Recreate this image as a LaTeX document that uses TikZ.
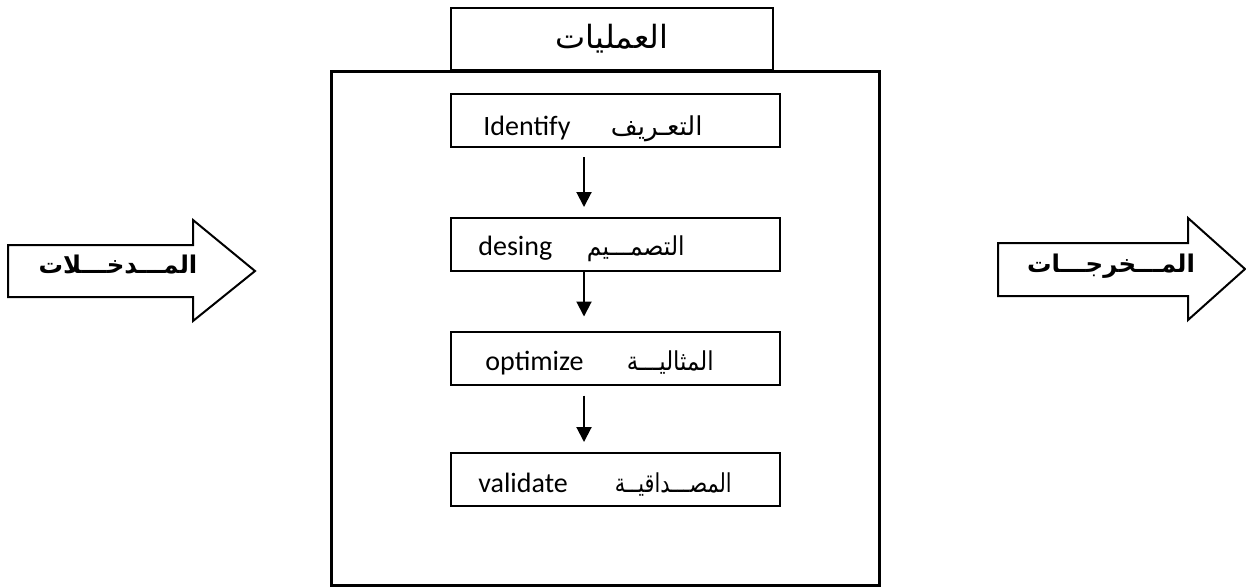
\documentclass[tikz,border=0pt]{standalone}
\usepackage{fontspec}
\setmainfont{Carlito}
\newfontfamily\arabicfont[Script=Arabic]{DejaVu Sans}
\TeXXeTstate=1
\usetikzlibrary{arrows.meta}

\tikzset{
    stagebox/.style={draw, line width=1pt, minimum width=164.5pt, minimum height=26.5pt, inner sep=0pt},
    flow/.style={-{Triangle[width=7.5pt, length=7.5pt]}, line width=1pt},
    blockarrow/.style={draw, line width=1pt, line join=miter},
    entxt/.style={font=\fontsize{14}{16}\selectfont, inner sep=0pt},
    artxt/.style={font=\fontsize{13}{15}\selectfont\arabicfont, inner sep=0pt},
    labtxt/.style={font=\fontsize{12.2}{14}\selectfont\arabicfont\bfseries, inner sep=0pt, anchor=base},
}

\begin{document}
\begin{tikzpicture}[x=0.5pt, y=-0.5pt]
    \useasboundingbox (0, 0) rectangle (1246, 586);

    %% main box and title
    \node[draw, line width=1.5pt, minimum width=274pt, minimum height=257pt] (process) at (605, 328) {};
    \node[draw, fill=white, line width=1pt, minimum width=161pt, minimum height=31pt,
          font=\fontsize{16}{18}\selectfont\arabicfont] (title) at (612, 39)
          {\beginR العمليات\endR};

    %% stages
    \node[stagebox] (identify) at (615.5, 120.5) {};
    \node[stagebox] (design)   at (615.5, 244.5) {};
    \node[stagebox] (optimize) at (615.5, 358) {};
    \node[stagebox] (validate) at (615.5, 479.5) {};

    \node[entxt, anchor=base west] (identifyEn) at (483, 135) {Identify};
    \node[artxt, anchor=base east] (identifyAr) at (703, 135) {\beginR التعـريف\endR};
    \node[entxt, anchor=base west] (designEn) at (478, 255) {desing};
    \node[artxt, anchor=base east, xscale=0.9, transform shape] (designAr) at (685, 255) {\beginR التصمـــيم\endR};
    \node[entxt, anchor=base west] (optimizeEn) at (485, 370) {optimize};
    \node[artxt, anchor=base east, xscale=0.88, transform shape] (optimizeAr) at (714, 370) {\beginR المثاليـــة\endR};
    \node[entxt, anchor=base west] (validateEn) at (478, 492) {validate};
    \node[artxt, anchor=base east, xscale=0.8, transform shape] (validateAr) at (732, 492) {\beginR المصـــداقيــة\endR};

    \draw[flow, shorten <=4.5pt, shorten >=5pt]
        ([xshift=-15.75pt]identify.south) -- ([xshift=-15.75pt]design.north);
    \draw[flow, shorten >=7pt]
        ([xshift=-15.75pt]design.south) -- ([xshift=-15.75pt]optimize.north);
    \draw[flow, shorten <=5pt, shorten >=5pt]
        ([xshift=-15.75pt]optimize.south) -- ([xshift=-15.75pt]validate.north);

    %% inputs
    \draw[blockarrow] (8, 245) -- (193, 245) -- (193, 220) -- (255, 271)
        -- (193, 321) -- (193, 297) -- (8, 297) -- cycle;
    \node[labtxt] (inputs) at (118, 273) {\beginR المـــدخـــلات\endR};

    %% outputs
    \draw[blockarrow] (998, 243) -- (1188, 243) -- (1188, 218) -- (1245, 269)
        -- (1188, 320) -- (1188, 296) -- (998, 296) -- cycle;
    \node[labtxt] (outputs) at (1111, 272) {\beginR المـــخرجـــات\endR};
\end{tikzpicture}
\end{document}
